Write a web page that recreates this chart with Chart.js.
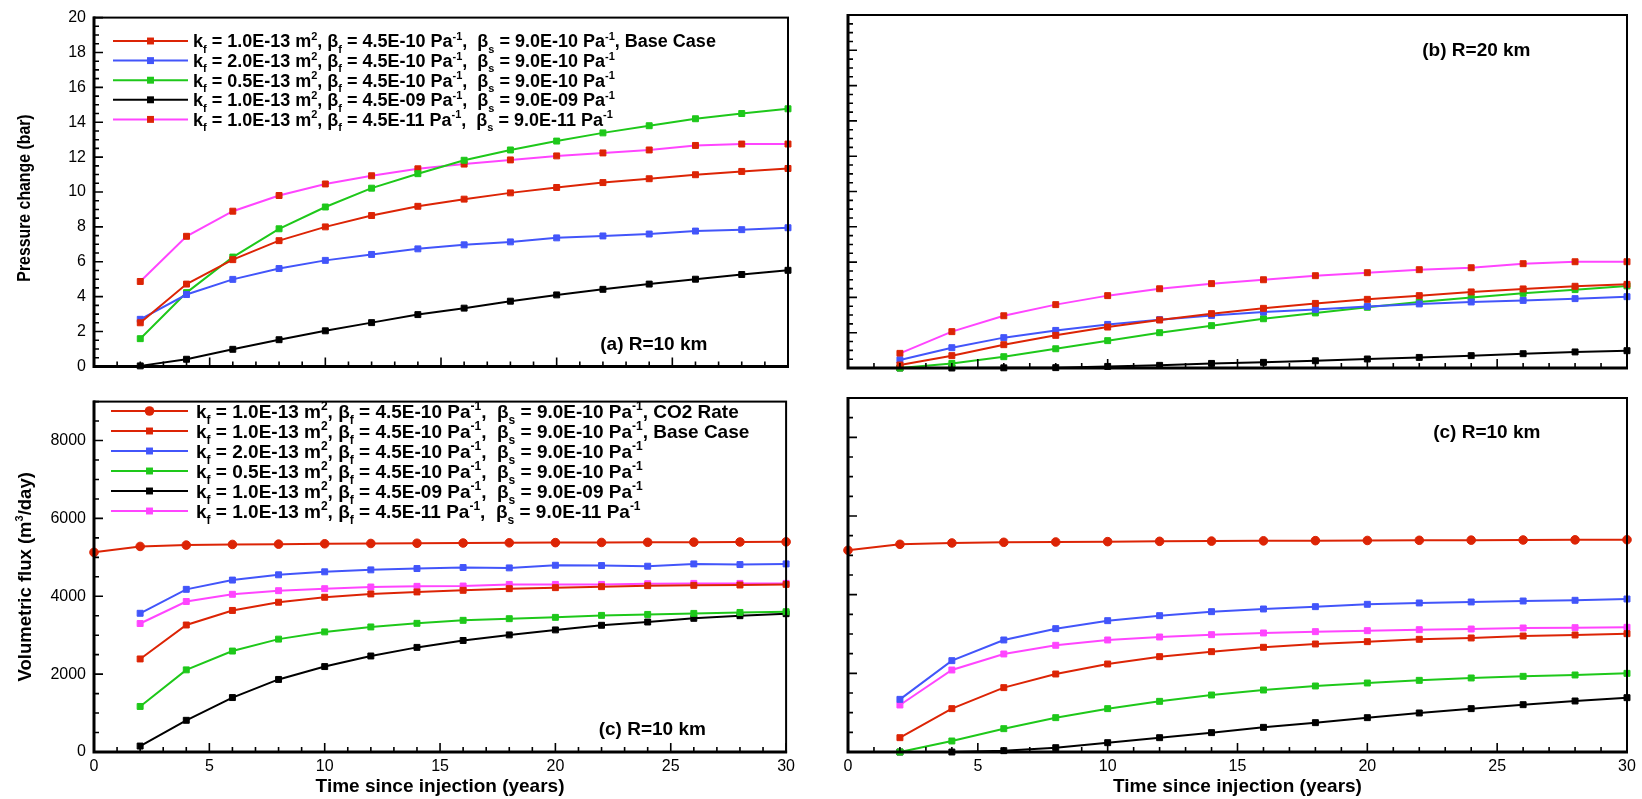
<!DOCTYPE html>
<html lang="en">
<head>
<meta charset="UTF-8">
<title>Pressure change and volumetric flux</title>
<script src="https://cdn.jsdelivr.net/npm/chart.js"></script>
<style>
  body { margin: 0; background: #fff; }
  #wrap { position: relative; width: 1642px; height: 799px; }
  canvas { position: absolute; }
</style>
</head>
<body>
<div id="wrap">
  <canvas id="dpNear" width="800" height="384" style="left:0;top:0"></canvas>
  <canvas id="dpFar" width="842" height="384" style="left:800px;top:0"></canvas>
  <canvas id="fluxNear" width="800" height="415" style="left:0;top:384px"></canvas>
  <canvas id="fluxFar" width="842" height="415" style="left:800px;top:384px"></canvas>
</div>
<script>
// time axis (years)
const years = [2, 4, 6, 8, 10, 12, 14, 16, 18, 20, 22, 24, 26, 28, 30];
const rateYears = [0, 2, 4, 6, 8, 10, 12, 14, 16, 18, 20, 22, 24, 26, 28, 30];

// labelled axis ticks
const timeTicks = [0, 5, 10, 15, 20, 25, 30];
const dpTickValues = [0, 2, 4, 6, 8, 10, 12, 14, 16, 18, 20];
const fluxTickValues = [0, 2000, 4000, 6000, 8000];

// case parameters shown in the legends
const permLabels = ['1.0E-13', '2.0E-13', '0.5E-13', '1.0E-13', '1.0E-13'];
const betaFLabels = ['4.5E-10', '4.5E-10', '4.5E-10', '4.5E-09', '4.5E-11'];
const betaSLabels = ['9.0E-10', '9.0E-10', '9.0E-10', '9.0E-09', '9.0E-11'];

// pressure change (bar) at R = 10 km
const dpBase10 = [2.5, 4.72, 6.12, 7.21, 8.0, 8.65, 9.18, 9.59, 9.95, 10.26, 10.54, 10.76, 10.99, 11.18, 11.35];
const dpPerm2_10 = [2.7, 4.12, 4.99, 5.61, 6.08, 6.42, 6.74, 6.97, 7.14, 7.37, 7.48, 7.59, 7.76, 7.84, 7.95];
const dpPerm05_10 = [1.59, 4.23, 6.27, 7.89, 9.14, 10.22, 11.05, 11.82, 12.41, 12.92, 13.39, 13.8, 14.2, 14.5, 14.77];
const dpComp09_10 = [0.03, 0.41, 0.98, 1.53, 2.04, 2.51, 2.97, 3.34, 3.74, 4.10, 4.42, 4.72, 5.0, 5.27, 5.51];
const dpComp11_10 = [4.87, 7.46, 8.9, 9.8, 10.46, 10.93, 11.33, 11.6, 11.84, 12.07, 12.24, 12.41, 12.67, 12.75, 12.75];

// pressure change (bar) at R = 20 km
const dpBase20 = [0.17, 0.70, 1.32, 1.85, 2.32, 2.72, 3.08, 3.38, 3.66, 3.89, 4.10, 4.31, 4.48, 4.63, 4.74];
const dpPerm2_20 = [0.45, 1.15, 1.72, 2.13, 2.47, 2.74, 2.98, 3.17, 3.32, 3.49, 3.63, 3.74, 3.83, 3.93, 4.04];
const dpPerm05_20 = [0.0, 0.26, 0.64, 1.09, 1.55, 2.0, 2.40, 2.79, 3.12, 3.44, 3.74, 4.0, 4.23, 4.44, 4.65];
const dpComp09_20 = [0, 0, 0.01, 0.02, 0.09, 0.15, 0.26, 0.32, 0.41, 0.51, 0.6, 0.7, 0.81, 0.91, 0.98];
const dpComp11_20 = [0.83, 2.06, 2.96, 3.59, 4.10, 4.49, 4.78, 5.0, 5.23, 5.40, 5.57, 5.68, 5.91, 6.02, 6.02];

// volumetric flux (m3/day), CO2 injection rate
const fluxRate = [5128, 5280, 5314, 5331, 5339, 5348, 5356, 5362, 5368, 5373, 5378, 5382, 5386, 5390, 5394, 5398];

// volumetric flux (m3/day), left panel
const fluxBaseA = [2390, 3262, 3636, 3847, 3975, 4060, 4111, 4153, 4195, 4221, 4246, 4272, 4280, 4289, 4305];
const fluxPerm2A = [3563, 4178, 4416, 4551, 4628, 4678, 4712, 4738, 4729, 4797, 4789, 4772, 4831, 4814, 4831];
const fluxPerm05A = [1170, 2110, 2593, 2899, 3085, 3212, 3305, 3382, 3424, 3458, 3509, 3534, 3560, 3585, 3603];
const fluxComp09A = [153, 814, 1398, 1864, 2194, 2466, 2687, 2865, 3008, 3136, 3255, 3339, 3433, 3501, 3552];
const fluxComp11A = [3300, 3865, 4051, 4144, 4195, 4238, 4255, 4263, 4305, 4305, 4305, 4322, 4331, 4331, 4331];

// volumetric flux (m3/day), right panel
const fluxBaseB = [364, 1102, 1636, 1983, 2237, 2424, 2551, 2662, 2746, 2805, 2865, 2899, 2949, 2975, 3008];
const fluxPerm2B = [1339, 2322, 2848, 3136, 3339, 3466, 3568, 3636, 3695, 3755, 3789, 3814, 3839, 3857, 3890];
const fluxPerm05B = [0, 280, 593, 873, 1102, 1288, 1449, 1576, 1678, 1754, 1822, 1882, 1924, 1958, 2000];
const fluxComp09B = [0, 0, 34, 110, 237, 364, 492, 627, 746, 873, 992, 1102, 1203, 1297, 1381];
const fluxComp11B = [1195, 2085, 2492, 2713, 2848, 2924, 2983, 3026, 3060, 3085, 3110, 3127, 3153, 3161, 3170];

const RED = '#dc2405', BLUE = '#4255fa', GREEN = '#1ec81a', BLACK = '#000000', PINK = '#ff45ff';
const FONT = '"Liberation Sans", Arial, Helvetica, sans-serif';

function series(xs, ys, color, extra) {
  const o = Object.assign({ pointStyle: 'rect', radius: 4.2, pointColor: color }, extra || {});
  return {
    data: xs.map((x, i) => ({ x: x, y: ys[i] })),
    borderColor: color,
    backgroundColor: color,
    borderWidth: 2,
    pointStyle: o.pointStyle,
    pointRadius: o.radius,
    pointBackgroundColor: o.pointColor,
    pointBorderColor: o.pointColor,
    pointBorderWidth: 1,
    tension: 0,
    clip: 5
  };
}

function legendParts(i, suffix) {
  return [
    ['k', 'n'], ['f', 'sub'], [' = ' + permLabels[i] + ' m', 'n'], ['2', 'sup'],
    [', β', 'n'], ['f', 'sub'], [' = ' + betaFLabels[i] + ' Pa', 'n'], ['-1', 'sup'],
    [',  β', 'n'], ['s', 'sub'], [' = ' + betaSLabels[i] + ' Pa', 'n'], ['-1', 'sup'],
    [suffix, 'n']
  ];
}

// text with sub/superscripts, vertically centred on y
function richWidth(ctx, parts, size) {
  let w = 0;
  parts.forEach(p => {
    ctx.font = 'bold ' + (p[1] === 'n' ? size : Math.round(size * 0.62)) + 'px ' + FONT;
    w += ctx.measureText(p[0]).width;
  });
  return w;
}
function drawRich(ctx, x, y, parts, size) {
  const base = y + size * 0.36;
  parts.forEach(p => {
    const small = p[1] !== 'n';
    ctx.font = 'bold ' + (small ? Math.round(size * 0.62) : size) + 'px ' + FONT;
    let dy = 0;
    if (p[1] === 'sub') dy = size * 0.3;
    if (p[1] === 'sup') dy = -size * 0.42;
    ctx.fillText(p[0], x, base + dy);
    x += ctx.measureText(p[0]).width;
  });
}

function drawMarker(ctx, style, r, x, y) {
  ctx.beginPath();
  if (style === 'circle') {
    ctx.arc(x, y, r + 0.5, 0, Math.PI * 2);
  } else {
    const s = Math.SQRT1_2 * r + 0.5;
    ctx.rect(x - s, y - s, 2 * s, 2 * s);
  }
  ctx.fill();
}

// frame, inward ticks, legend, titles and panel labels
const panelDecor = {
  id: 'panelDecor',
  afterDraw(chart, args, opts) {
    const ctx = chart.ctx, a = chart.chartArea;
    const xs = chart.scales.x, ys = chart.scales.y;
    ctx.save();
    ctx.strokeStyle = '#000';
    ctx.fillStyle = '#000';

    ctx.lineWidth = 1.6;
    ctx.beginPath();
    for (let v = xs.min; v <= xs.max + 1e-9; v += opts.xMinor) {
      const px = xs.getPixelForValue(v);
      const major = Math.abs(v / opts.xMajor - Math.round(v / opts.xMajor)) < 1e-6;
      ctx.moveTo(px, a.bottom);
      ctx.lineTo(px, a.bottom - (major ? 9 : 5));
    }
    for (let v = ys.min; v <= ys.max + 1e-9; v += opts.yMinor) {
      const py = ys.getPixelForValue(v);
      const major = Math.abs(v / opts.yMajor - Math.round(v / opts.yMajor)) < 1e-6;
      ctx.moveTo(a.left, py);
      ctx.lineTo(a.left + (major ? 9 : 5), py);
    }
    ctx.stroke();

    ctx.lineWidth = 2;
    ctx.strokeRect(a.left, a.top, a.right - a.left, a.bottom - a.top);
    ctx.lineWidth = 3;
    ctx.beginPath();
    ctx.moveTo(a.left, a.top - 1);
    ctx.lineTo(a.left, a.bottom);
    ctx.lineTo(a.right + 1, a.bottom);
    ctx.stroke();

    if (opts.legend) {
      const L = opts.legend;
      ctx.textAlign = 'left';
      ctx.textBaseline = 'alphabetic';
      L.rows.forEach((row, i) => {
        const ds = chart.data.datasets[row.dataset];
        const y = L.y0 + i * L.dy;
        ctx.strokeStyle = ds.borderColor;
        ctx.lineWidth = 2;
        ctx.beginPath();
        ctx.moveTo(L.x0, y);
        ctx.lineTo(L.x1, y);
        ctx.stroke();
        ctx.fillStyle = ds.pointBackgroundColor;
        drawMarker(ctx, ds.pointStyle, ds.pointRadius, (L.x0 + L.x1) / 2, y);
        ctx.fillStyle = '#000';
        drawRich(ctx, L.textX, y, row.parts, L.size);
      });
    }

    if (opts.yTitle) {
      const T = opts.yTitle;
      const cy = (a.top + a.bottom) / 2 + (T.shift || 0);
      ctx.save();
      ctx.translate(T.x, cy);
      ctx.rotate(-Math.PI / 2);
      ctx.scale(T.stretch || 1, 1);
      ctx.textAlign = 'left';
      ctx.textBaseline = 'alphabetic';
      const w = richWidth(ctx, T.parts, T.size);
      drawRich(ctx, -w / 2, 0, T.parts, T.size);
      ctx.restore();
    }

    if (opts.xTitle) {
      ctx.font = 'bold 19px ' + FONT;
      ctx.textAlign = 'center';
      ctx.textBaseline = 'middle';
      ctx.fillText(opts.xTitle, (a.left + a.right) / 2, a.bottom + 35);
    }

    if (opts.note) {
      ctx.font = 'bold 19px ' + FONT;
      ctx.textAlign = 'center';
      ctx.textBaseline = 'middle';
      ctx.fillText(opts.note.text, xs.getPixelForValue(opts.note.x), ys.getPixelForValue(opts.note.y));
    }
    ctx.restore();
  }
};

function fixedTicks(values) {
  return scale => { scale.ticks = values.map(v => ({ value: v })); };
}

function panel(id, datasets, o) {
  const tickFont = { family: FONT, size: 16 };
  return new Chart(document.getElementById(id), {
    type: 'line',
    data: { datasets: datasets },
    options: {
      responsive: false,
      animation: false,
      devicePixelRatio: 1,
      layout: { padding: { top: o.padTop, right: o.padRight, left: 0, bottom: 0 } },
      scales: {
        x: {
          type: 'linear', min: 0, max: 30,
          grid: { display: false, drawTicks: false },
          border: { display: false },
          afterBuildTicks: fixedTicks(timeTicks),
          ticks: { display: o.xLabels, padding: 5, color: '#000', font: tickFont, callback: v => String(v) },
          afterFit: s => { s.height = o.xHeight; }
        },
        y: {
          type: 'linear', min: 0, max: o.yMax,
          grid: { display: false, drawTicks: false },
          border: { display: false },
          afterBuildTicks: fixedTicks(o.yTicks),
          ticks: { display: o.yLabels, padding: 8, color: '#000', font: tickFont, callback: v => String(v) },
          afterFit: s => { s.width = o.yWidth; }
        }
      },
      plugins: {
        legend: { display: false },
        tooltip: { enabled: false },
        panelDecor: o.decor
      }
    },
    plugins: [panelDecor]
  });
}

const dpRows = [0, 1, 2, 3, 4].map(i => ({ dataset: i, parts: legendParts(i, i === 0 ? ', Base Case' : '') }));
const fluxRows = [{ dataset: 0, parts: legendParts(0, ', CO2 Rate') }]
  .concat([0, 1, 2, 3, 4].map(i => ({ dataset: i + 1, parts: legendParts(i, i === 0 ? ', Base Case' : '') })));

const dpTicks = { xMajor: 5, xMinor: 1, yMajor: 2, yMinor: 0.5 };
const fluxTicks = { xMajor: 5, xMinor: 1, yMajor: 2000, yMinor: 500 };

panel('dpNear', [
  series(years, dpBase10, RED),
  series(years, dpPerm2_10, BLUE),
  series(years, dpPerm05_10, GREEN),
  series(years, dpComp09_10, BLACK),
  series(years, dpComp11_10, PINK, { pointColor: RED })
], {
  padTop: 15, padRight: 12, xHeight: 16, yWidth: 94, yMax: 20, yTicks: dpTickValues, xLabels: false, yLabels: true,
  decor: Object.assign({
    legend: { x0: 113, x1: 188, textX: 193, y0: 41, dy: 19.6, size: 18, rows: dpRows },
    yTitle: { x: 24, size: 18, stretch: 0.88, shift: 6, parts: [['Pressure change (bar)', 'n']] },
    note: { text: '(a) R=10 km', x: 24.2, y: 1.25 }
  }, dpTicks)
});

panel('dpFar', [
  series(years, dpBase20, RED),
  series(years, dpPerm2_20, BLUE),
  series(years, dpPerm05_20, GREEN),
  series(years, dpComp09_20, BLACK),
  series(years, dpComp11_20, PINK, { pointColor: RED })
], {
  padTop: 15, padRight: 15, xHeight: 16, yWidth: 48, yMax: 20, yTicks: dpTickValues, xLabels: false, yLabels: false,
  decor: Object.assign({ note: { text: '(b) R=20 km', x: 24.2, y: 18.0 } }, dpTicks)
});

panel('fluxNear', [
  series(rateYears, fluxRate, RED, { pointStyle: 'circle', radius: 4.3 }),
  series(years, fluxBaseA, RED),
  series(years, fluxPerm2A, BLUE),
  series(years, fluxPerm05A, GREEN),
  series(years, fluxComp09A, BLACK),
  series(years, fluxComp11A, PINK)
], {
  padTop: 14, padRight: 12, xHeight: 47, yWidth: 94, yMax: 9000, yTicks: fluxTickValues, xLabels: true, yLabels: true,
  decor: Object.assign({
    legend: { x0: 111, x1: 188, textX: 196, y0: 27, dy: 20, size: 19, rows: fluxRows },
    yTitle: { x: 24, size: 18.5, parts: [['Volumetric flux (m', 'n'], ['3', 'sup'], ['/day)', 'n']] },
    xTitle: 'Time since injection (years)',
    note: { text: '(c) R=10 km', x: 24.2, y: 560 }
  }, fluxTicks)
});

panel('fluxFar', [
  series(rateYears, fluxRate, RED, { pointStyle: 'circle', radius: 4.3 }),
  series(years, fluxBaseB, RED),
  series(years, fluxPerm2B, BLUE),
  series(years, fluxPerm05B, GREEN),
  series(years, fluxComp09B, BLACK),
  series(years, fluxComp11B, PINK)
], {
  padTop: 14, padRight: 15, xHeight: 47, yWidth: 48, yMax: 9000, yTicks: fluxTickValues, xLabels: true, yLabels: false,
  decor: Object.assign({
    xTitle: 'Time since injection (years)',
    note: { text: '(c) R=10 km', x: 24.6, y: 8111 }
  }, fluxTicks)
});
</script>
</body>
</html>
